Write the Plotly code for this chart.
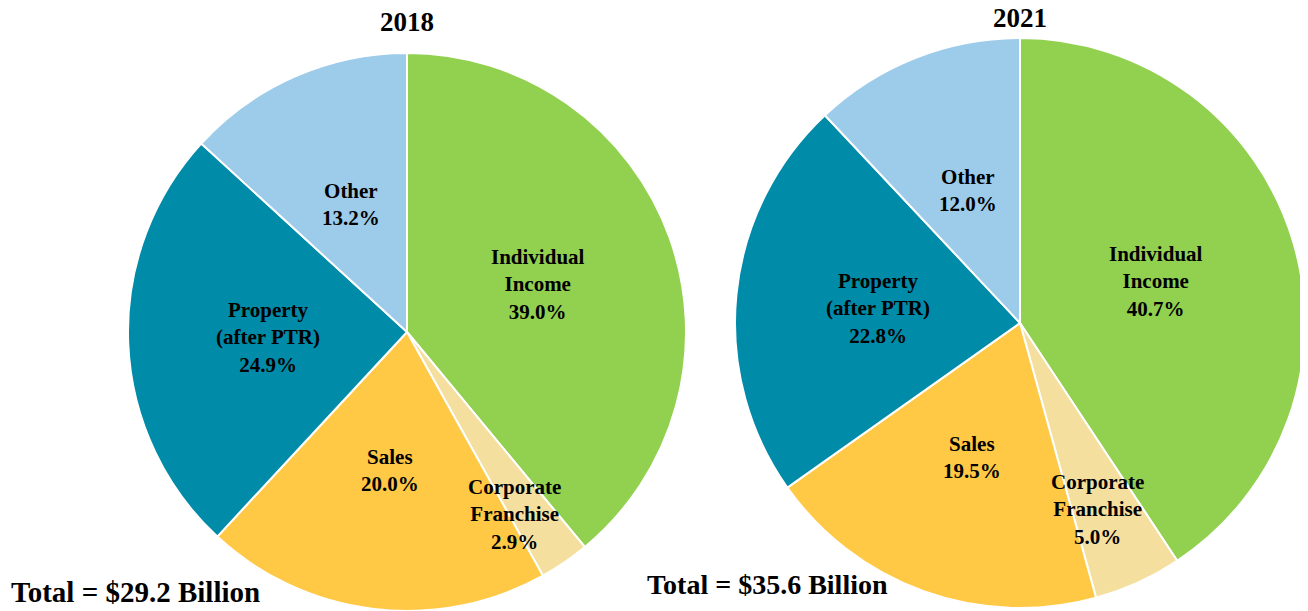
import math
import plotly.graph_objects as go

categories = ["Individual<br>Income", "Corporate<br>Franchise", "Sales", "Property<br>(after PTR)", "Other"]
values_2018 = [39.0, 2.9, 20.0, 24.9, 13.2]
values_2021 = [40.7, 5.0, 19.5, 22.8, 12.0]
colors = ["#92D050", "#F5DF9F", "#FFC845", "#008BA8", "#9DCBEA"]
titles = ["2018", "2021"]
totals = ["Total = $29.2 Billion", "Total = $35.6 Billion"]

W, H = 1308, 611
OFF = 8  # page offset of the plot div
FONT = "Liberation Serif, Times New Roman, serif"

# pie geometry in page pixels: (cx, cy, R)
geoms = [(407, 332, 279), (1020, 323, 285)]
title_y = [22, 18]
label_r = [[0.5, 0.76, 0.5, 0.5, 0.5], [0.5, 0.71, 0.5, 0.5, 0.5]]
label_da = [[0, 4, 0, 0, 0], [0, 2, 0, 0, 0]]  # degrees
total_pos = [(9, 592, 29), (645, 584, 28)]


def px2paper(x, y):
    return (x - OFF) / W, 1 - (y - OFF) / H


fig = go.Figure()
annotations = []
for i, (vals, (cx, cy, R)) in enumerate(zip([values_2018, values_2021], geoms)):
    x0, y1 = px2paper(cx - R, cy - R)
    x1, y0 = px2paper(cx + R, cy + R)
    fig.add_trace(go.Pie(
        labels=[c.replace("<br>", " ") for c in categories],
        values=vals,
        sort=False,
        direction="clockwise",
        rotation=0,
        marker=dict(colors=colors, line=dict(color="white", width=2)),
        textinfo="none",
        hoverinfo="label+percent",
        domain=dict(x=[max(0, x0), min(1, x1)], y=[max(0, y0), min(1, y1)]),
        showlegend=False,
    ))
    total = sum(vals)
    cum = 0.0
    for j, (cat, v) in enumerate(zip(categories, vals)):
        mid = (cum + v / 2) / total * 2 * math.pi + math.radians(label_da[i][j])
        cum += v
        r = R * label_r[i][j]
        ax, ay = px2paper(cx + r * math.sin(mid), cy - r * math.cos(mid))
        annotations.append(dict(
            x=ax, y=ay, xref="paper", yref="paper",
            text=f"<b>{cat}<br>{v:.1f}%</b>", showarrow=False,
            font=dict(family=FONT, size=21, color="black"),
            xanchor="center", yanchor="middle", align="center",
        ))
    tx, ty = px2paper(cx, title_y[i])
    annotations.append(dict(
        x=tx, y=ty, xref="paper", yref="paper",
        text=f"<b>{titles[i]}</b>", showarrow=False,
        font=dict(family=FONT, size=27, color="black"),
        xanchor="center", yanchor="middle",
    ))

for (lx, ly, fs), t in zip(total_pos, totals):
    ax, ay = px2paper(lx, ly)
    annotations.append(dict(x=ax, y=ay, xref="paper", yref="paper",
                            text=f"<b>{t}</b>", showarrow=False,
                            font=dict(family=FONT, size=fs, color="black"),
                            xanchor="left", yanchor="middle"))

fig.update_layout(
    width=W, height=H,
    margin=dict(l=0, r=0, t=0, b=0),
    paper_bgcolor="white", plot_bgcolor="white",
    annotations=annotations,
)
fig.write_html("out.html")
